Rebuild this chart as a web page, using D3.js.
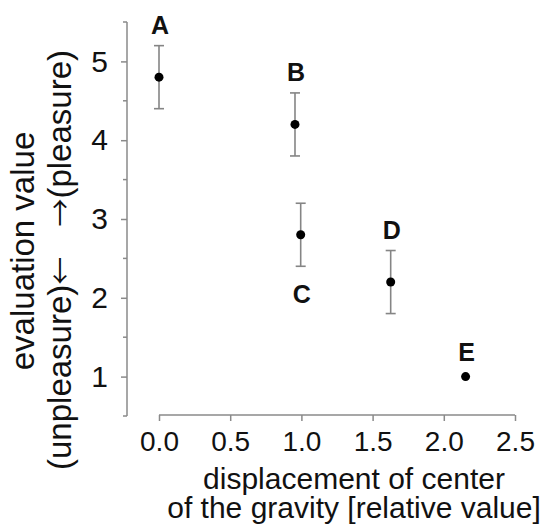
<!DOCTYPE html>
<html>
<head>
<meta charset="utf-8">
<script src="https://cdn.jsdelivr.net/npm/d3@7"></script>
<style>
	body { margin: 0; background: #fff; }
	text { font-family: "Liberation Sans", Arial, sans-serif; fill: #111; }
	.arrow { font-family: "Noto Sans CJK JP", "DejaVu Sans", sans-serif; }
</style>
</head>
<body>
<div id="chart"></div>
<script>
// data
var labels = ["A", "B", "C", "D", "E"];
var displacement = [0.0, 0.955, 0.995, 1.627, 2.153];
var evaluation = [4.8, 4.2, 2.8, 2.2, 1.0];
var errors = [0.4, 0.4, 0.4, 0.4, 0];
var labelSide = ["above", "above", "below", "above", "above"];

var xTicks = [0, 0.5, 1, 1.5, 2, 2.5];
var yTicks = [1, 2, 3, 4, 5];
var yMinorTicks = [0.5, 1.5, 2.5, 3.5, 4.5, 5.5];

var layout = {
	w: 546,
	h: 524
}

var axisColor = "#8a8a8a";

var svg = d3.select("#chart")
			.append("svg")
			.attr("width", layout.w)
			.attr("height", layout.h);

var xScale = d3.scaleLinear().domain([0, 2.5]).range([159, 515]),
	yScale = d3.scaleLinear().domain([0.5, 5.5]).range([416, 22]);

// y axis (R style, detached)
var yAxis = svg.append("g")
				.attr("class", "y-axis")
				.attr("transform", "translate(127,0)")
				.call(d3.axisLeft(yScale).tickValues(yTicks).tickSize(6).tickPadding(13).tickFormat(d3.format("d")));

svg.append("g")
	.attr("transform", "translate(127,0)")
	.selectAll("line")
	.data(yMinorTicks)
	.enter().append("line")
	.attr("x1", -4)
	.attr("x2", 0)
	.attr("y1", function(d){ return yScale(d); })
	.attr("y2", function(d){ return yScale(d); })
	.style("stroke", axisColor)
	.style("stroke-width", 1.5);

// x axis
var xAxis = svg.append("g")
				.attr("class", "x-axis")
				.attr("transform", "translate(0,415)")
				.call(d3.axisBottom(xScale).tickValues(xTicks).tickSize(6).tickPadding(10).tickFormat(d3.format(".1f")));

svg.selectAll(".domain, .tick line")
	.style("stroke", axisColor)
	.style("stroke-width", 1.5);
// drop the outer tick ends of the domain path
yAxis.select(".domain").attr("d", "M0," + yScale(5.5) + "V" + yScale(0.5));
xAxis.select(".domain").attr("d", "M" + xScale(0) + ",0H" + xScale(2.5));

yAxis.selectAll("text")
	.attr("fill", null)
	.style("font-size", "30px");
xAxis.selectAll("text")
	.attr("fill", null)
	.style("font-size", "28px");

// axis titles
svg.append("text")
	.attr("x", 354)
	.attr("y", 489)
	.attr("text-anchor", "middle")
	.style("font-size", "30px")
	.text("displacement of center");
svg.append("text")
	.attr("x", 354)
	.attr("y", 518)
	.attr("text-anchor", "middle")
	.style("font-size", "30px")
	.text("of the gravity [relative value]");

svg.append("text")
	.attr("transform", "translate(34,251) rotate(-90)")
	.attr("text-anchor", "middle")
	.style("font-size", "33px")
	.text("evaluation value");

var unpl = svg.append("text")
	.attr("transform", "translate(71,470) rotate(-90)")
	.attr("text-anchor", "start")
	.style("font-size", "33px");
unpl.append("tspan").text("(unpleasure)");
unpl.append("tspan").attr("class", "arrow").style("font-size", "28px").text("\u2190");

var pl = svg.append("text")
	.attr("transform", "translate(71,50) rotate(-90)")
	.attr("text-anchor", "end")
	.style("font-size", "33px");
pl.append("tspan").attr("class", "arrow").style("font-size", "28px").text("\u2192");
pl.append("tspan").text("(pleasure)");

// error bars
var pts = labels.map(function(d, i){
	return { label: d, x: displacement[i], y: evaluation[i], err: errors[i], side: labelSide[i] };
});

var bars = svg.append("g")
				.attr("class", "errorbars")
				.selectAll("g")
				.data(pts.filter(function(d){ return d.err > 0; }))
				.enter().append("g")
				.style("stroke", "#858585")
				.style("stroke-width", 1.6);

bars.append("line")
	.attr("x1", function(d){ return xScale(d.x); })
	.attr("x2", function(d){ return xScale(d.x); })
	.attr("y1", function(d){ return yScale(d.y + d.err); })
	.attr("y2", function(d){ return yScale(d.y - d.err); });
bars.append("line")
	.attr("x1", function(d){ return xScale(d.x) - 5; })
	.attr("x2", function(d){ return xScale(d.x) + 5; })
	.attr("y1", function(d){ return yScale(d.y + d.err); })
	.attr("y2", function(d){ return yScale(d.y + d.err); });
bars.append("line")
	.attr("x1", function(d){ return xScale(d.x) - 5; })
	.attr("x2", function(d){ return xScale(d.x) + 5; })
	.attr("y1", function(d){ return yScale(d.y - d.err); })
	.attr("y2", function(d){ return yScale(d.y - d.err); });

// points
svg.append("g")
	.attr("class", "points")
	.selectAll("circle")
	.data(pts)
	.enter().append("circle")
	.attr("cx", function(d){ return xScale(d.x); })
	.attr("cy", function(d){ return yScale(d.y); })
	.attr("r", 4.5)
	.style("fill", "#000");

// point labels
svg.append("g")
	.attr("class", "point-labels")
	.selectAll("text")
	.data(pts)
	.enter().append("text")
	.attr("x", function(d){ return xScale(d.x) + 1; })
	.attr("y", function(d){
		if(d.side == "below"){
			return yScale(d.y - d.err) + 37;
		}
		var top = d.err > 0 ? yScale(d.y + d.err) : yScale(d.y) - 4;
		return top - 12;
	})
	.attr("text-anchor", "middle")
	.style("font-size", "25px")
	.style("font-weight", "bold")
	.text(function(d){ return d.label; });
</script>
</body>
</html>
